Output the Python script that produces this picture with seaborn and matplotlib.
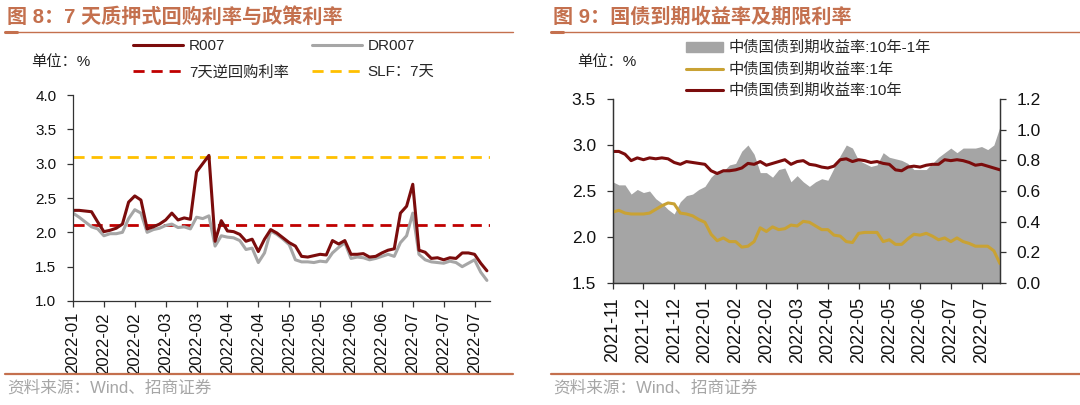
import numpy as np
import pandas as pd
import matplotlib
matplotlib.use("Agg")
import matplotlib.pyplot as plt
import seaborn as sns
from matplotlib.lines import Line2D
from matplotlib.patches import Patch

# ---- left panel data (R007 / DR007, every ~2 trading days) ----
r007 = [2.32, 2.32, 2.31, 2.30, 2.15, 2.01, 2.03, 2.06, 2.12, 2.44,
        2.53, 2.47, 2.05, 2.08, 2.12, 2.18, 2.28, 2.18, 2.21, 2.19,
        2.88, 3.00, 3.12, 1.87, 2.17, 2.02, 2.01, 1.97, 1.87, 1.90,
        1.72, 1.90, 2.04, 1.99, 1.92, 1.85, 1.80, 1.65, 1.64, 1.66,
        1.68, 1.67, 1.88, 1.83, 1.88, 1.68, 1.68, 1.69, 1.64, 1.65,
        1.70, 1.74, 1.76, 2.28, 2.38, 2.70, 1.74, 1.71, 1.62, 1.63,
        1.60, 1.63, 1.62, 1.70, 1.70, 1.68, 1.55, 1.44]
dr007 = [2.28, 2.22, 2.15, 2.08, 2.05, 1.95, 1.98, 1.98, 2.00, 2.20,
         2.33, 2.28, 2.00, 2.04, 2.06, 2.10, 2.12, 2.07, 2.08, 2.05,
         2.22, 2.20, 2.24, 1.80, 1.95, 1.93, 1.92, 1.88, 1.75, 1.77,
         1.56, 1.70, 2.02, 1.97, 1.90, 1.82, 1.60, 1.57, 1.57, 1.56,
         1.58, 1.57, 1.70, 1.78, 1.85, 1.62, 1.64, 1.63, 1.60, 1.62,
         1.65, 1.68, 1.65, 1.85, 1.95, 2.28, 1.68, 1.60, 1.57, 1.56,
         1.55, 1.58, 1.56, 1.50, 1.55, 1.60, 1.42, 1.30]
reverse_repo = 2.1
slf_7d = 3.1
left_ticklabels = ["2022-01", "2022-02", "2022-02", "2022-03", "2022-03",
                   "2022-04", "2022-04", "2022-05", "2022-05", "2022-06",
                   "2022-06", "2022-07", "2022-07", "2022-07"]

# ---- right panel data ----
cgb_10y = [2.93, 2.93, 2.90, 2.83, 2.86, 2.84, 2.86, 2.85, 2.86, 2.85,
           2.81, 2.79, 2.82, 2.81, 2.80, 2.79, 2.72, 2.69, 2.72, 2.72,
           2.73, 2.75, 2.80, 2.79, 2.82, 2.78, 2.80, 2.82, 2.84, 2.79,
           2.82, 2.83, 2.79, 2.78, 2.76, 2.75, 2.77, 2.84, 2.85, 2.82,
           2.84, 2.83, 2.81, 2.82, 2.80, 2.79, 2.73, 2.72, 2.76, 2.77,
           2.76, 2.78, 2.79, 2.79, 2.84, 2.83, 2.84, 2.83, 2.81, 2.78,
           2.79, 2.77, 2.75, 2.73]
cgb_1y = [2.27, 2.29, 2.26, 2.25, 2.25, 2.25, 2.26, 2.30, 2.34, 2.37,
          2.36, 2.26, 2.25, 2.23, 2.19, 2.16, 2.03, 1.96, 1.99, 1.95,
          1.95, 1.89, 1.90, 1.95, 2.10, 2.06, 2.11, 2.08, 2.09, 2.13,
          2.12, 2.17, 2.16, 2.12, 2.08, 2.08, 2.02, 2.01, 1.95, 1.94,
          2.04, 2.05, 2.05, 2.05, 1.95, 1.97, 1.92, 1.92, 1.98, 2.03,
          2.02, 2.04, 2.01, 1.97, 1.99, 1.95, 1.99, 1.95, 1.93, 1.90,
          1.90, 1.90, 1.85, 1.71]
right_ticklabels = ["2021-11", "2021-12", "2021-12", "2022-01", "2022-02",
                    "2022-02", "2022-03", "2022-04", "2022-05", "2022-05",
                    "2022-06", "2022-07", "2022-07"]

TITLE_C = "#C4704E"
DARK_RED = "#7B0C0C"

sns.set_theme(style="ticks")
plt.rcParams["font.family"] = ["Liberation Sans", "Noto Sans CJK SC", "DejaVu Sans"]
plt.rcParams["axes.unicode_minus"] = False

fig = plt.figure(figsize=(10.8, 4.05), dpi=100)


def frame(x0, x1, title):
    # title, rules and source line of one panel (pixel coords -> fig fraction)
    W, H = 1080, 405
    fig.text(x0 / W + 0.002, 1 - 17 / H, title, color=TITLE_C, fontsize=14.5,
             fontweight="bold", va="center", ha="left")
    fig.add_artist(Line2D([x0 / W, x1 / W], [1 - 32 / H] * 2, color=TITLE_C, lw=1.0))
    fig.add_artist(Line2D([x0 / W, (x0 + 12) / W], [1 - 32 / H] * 2, color=TITLE_C, lw=2.2))
    fig.add_artist(Line2D([x0 / W, x1 / W], [1 - 374 / H] * 2, color=TITLE_C, lw=1.6))
    fig.text(x0 / W + 0.002, 1 - 388 / H, "资料来源：Wind、招商证券", color="#A6A6A6",
             fontsize=12, va="center", ha="left")
    fig.text((x0 + 26) / W, 1 - 62 / H, "单位：%", color="#222222", fontsize=11,
             va="center", ha="left")


frame(5, 513, "图 8：7 天质押式回购利率与政策利率")
frame(551, 1080, "图 9：国债到期收益率及期限利率")

# ---------------- left panel ----------------
ax = fig.add_axes([73 / 1080, 1 - 301 / 405, 417 / 1080, 206 / 405])
df_l = pd.DataFrame({"x": np.arange(len(r007)), "R007": r007, "DR007": dr007})
sns.lineplot(data=df_l, x="x", y="DR007", ax=ax, color="#A6A6A6", lw=2.2)
sns.lineplot(data=df_l, x="x", y="R007", ax=ax, color=DARK_RED, lw=2.2)
ax.axhline(reverse_repo, color="#C00000", lw=2.0, ls=(0, (4, 2.5)), zorder=1)
ax.axhline(slf_7d, color="#FFC000", lw=2.0, ls=(0, (4, 2.5)), zorder=1)
ax.set_xlim(0, 67.5)
ax.set_ylim(1.0, 4.0)
ax.set_yticks(np.arange(1.0, 4.01, 0.5))
ax.set_yticklabels([f"{v:.1f}" for v in np.arange(1.0, 4.01, 0.5)], fontsize=11)
ax.set_xticks(np.arange(0, 5 * len(left_ticklabels), 5))
ax.set_xticklabels(left_ticklabels, rotation=90, fontsize=12)
ax.set_xlabel("")
ax.set_ylabel("")
for s in ["top", "right"]:
    ax.spines[s].set_visible(False)
for s in ["left", "bottom"]:
    ax.spines[s].set_color("#333333")
    ax.spines[s].set_linewidth(0.9)
ax.tick_params(length=4, width=0.9, color="#333333", labelcolor="#111111")
ax.tick_params(axis="y", pad=8)
ax.tick_params(axis="x", pad=4)

h_l = [Line2D([], [], color=DARK_RED, lw=2.2),
       Line2D([], [], color="#C00000", lw=2.0, ls=(0, (4, 2.5))),
       Line2D([], [], color="#A6A6A6", lw=2.2),
       Line2D([], [], color="#FFC000", lw=2.0, ls=(0, (4, 2.5)))]
lab_l = ["R007", "7天逆回购利率", "DR007", "SLF：7天"]
fig.legend(h_l, lab_l, ncol=2, loc="upper left", bbox_to_anchor=(133 / 1080, 1 - 39 / 405),
           frameon=False, fontsize=11, handlelength=3.3, handletextpad=0.35,
           labelspacing=0.8, columnspacing=1.5, borderpad=0, borderaxespad=0)

# ---------------- right panel ----------------
axr = fig.add_axes([612.7 / 1080, 1 - 283 / 405, 387.3 / 1080, 184 / 405])
ax2 = axr.twinx()
xr = np.arange(len(cgb_10y))
spread = np.array(cgb_10y) - np.array(cgb_1y)
ax2.fill_between(xr, 0, spread, color="#A5A5A5", lw=0)
ax2.set_ylim(0, 1.2)
ax2.set_yticks(np.arange(0, 1.21, 0.2))
ax2.set_yticklabels([f"{v:.1f}" for v in np.arange(0, 1.21, 0.2)], fontsize=12.5)

df_r = pd.DataFrame({"x": xr, "y1": cgb_1y, "y10": cgb_10y})
sns.lineplot(data=df_r, x="x", y="y1", ax=axr, color="#C9A234", lw=2.2)
sns.lineplot(data=df_r, x="x", y="y10", ax=axr, color=DARK_RED, lw=2.2)
axr.set_zorder(ax2.get_zorder() + 1)
axr.patch.set_visible(False)
axr.set_xlim(0, 63)
axr.set_ylim(1.5, 3.5)
axr.set_yticks(np.arange(1.5, 3.51, 0.5))
axr.set_yticklabels([f"{v:.1f}" for v in np.arange(1.5, 3.51, 0.5)], fontsize=12.5)
axr.set_xticks(np.arange(0, 5 * len(right_ticklabels), 5))
axr.set_xticklabels(right_ticklabels, rotation=90, fontsize=13)
axr.set_xlabel("")
axr.set_ylabel("")
for a in (axr, ax2):
    a.spines["top"].set_visible(False)
    for s in ["left", "bottom", "right"]:
        a.spines[s].set_color("#333333")
        a.spines[s].set_linewidth(0.9)
    a.tick_params(length=4, width=0.9, color="#333333", labelcolor="#111111")
    a.tick_params(axis="y", pad=8)
    a.tick_params(axis="x", pad=6)

h_r = [Patch(color="#A5A5A5"),
       Line2D([], [], color="#C9A234", lw=2.2),
       Line2D([], [], color=DARK_RED, lw=2.2)]
lab_r = ["中债国债到期收益率:10年-1年", "中债国债到期收益率:1年", "中债国债到期收益率:10年"]
fig.legend(h_r, lab_r, loc="upper left", bbox_to_anchor=(686 / 1080, 1 - 41 / 405),
           frameon=False, fontsize=11, handlelength=2.4, handleheight=0.55,
           handletextpad=0.4, labelspacing=0.45, borderpad=0, borderaxespad=0)

fig.savefig("out.png", dpi=100, facecolor="white")
